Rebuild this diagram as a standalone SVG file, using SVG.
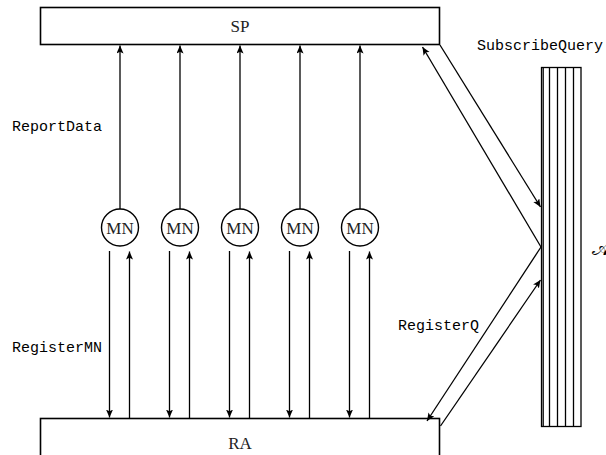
<svg xmlns="http://www.w3.org/2000/svg" width="606" height="455" viewBox="0 0 606 455">
<style>
.box{fill:#fff;stroke:#000;stroke-width:1.6}
.ln{stroke:#000;stroke-width:1.3;fill:none}
.circ{fill:#fff;stroke:#000;stroke-width:1.4}
.serif{font-family:"Liberation Serif","Times New Roman",serif;font-size:17px;fill:#222;text-anchor:middle}
.mono{font-family:"Liberation Mono","Courier New",monospace;font-size:15px;fill:#000}
</style>
<defs>
<marker id="ah" markerUnits="userSpaceOnUse" markerWidth="9" markerHeight="8" refX="8" refY="3.5" orient="auto">
<path d="M0,0 L8,3.5 L0,7 L1.8,3.5 z" fill="#000"/>
</marker>
</defs>
<g id="SP"><rect class="box" x="40.5" y="7.5" width="399" height="37"/><text class="serif" x="240" y="32">SP</text></g>
<g id="RA"><rect class="box" x="40.5" y="418.5" width="399" height="50"/><text class="serif" x="240" y="449">RA</text></g>
<g id="A">
<rect x="541.5" y="67.5" width="39.5" height="359" fill="#fff" stroke="#000" stroke-width="1.3"/>
<line class="ln" x1="543.2" y1="67.5" x2="543.2" y2="426.5"/>
<line class="ln" x1="549.5" y1="67.5" x2="549.5" y2="426.5"/>
<line class="ln" x1="557.5" y1="67.5" x2="557.5" y2="426.5"/>
<line class="ln" x1="565.5" y1="67.5" x2="565.5" y2="426.5"/>
<line class="ln" x1="573.5" y1="67.5" x2="573.5" y2="426.5"/>
<text x="592" y="255" font-family="DejaVu Sans, Noto Sans, serif" font-size="21">𝒜</text>
</g>
<g id="MN1"><circle class="circ" cx="120" cy="227.5" r="18.5"/><text class="serif" x="120" y="233.5">MN</text></g>
<g id="MN2"><circle class="circ" cx="180" cy="227.5" r="18.5"/><text class="serif" x="180" y="233.5">MN</text></g>
<g id="MN3"><circle class="circ" cx="240" cy="227.5" r="18.5"/><text class="serif" x="240" y="233.5">MN</text></g>
<g id="MN4"><circle class="circ" cx="300" cy="227.5" r="18.5"/><text class="serif" x="300" y="233.5">MN</text></g>
<g id="MN5"><circle class="circ" cx="360" cy="227.5" r="18.5"/><text class="serif" x="360" y="233.5">MN</text></g>
<g id="connectors" marker-end="url(#ah)">
<line class="ln" x1="120" y1="209" x2="120" y2="45.5"/>
<line class="ln" x1="180" y1="209" x2="180" y2="45.5"/>
<line class="ln" x1="240" y1="209" x2="240" y2="45.5"/>
<line class="ln" x1="300" y1="209" x2="300" y2="45.5"/>
<line class="ln" x1="360" y1="209" x2="360" y2="45.5"/>
<line class="ln" x1="109.5" y1="251" x2="109.5" y2="417.5"/>
<line class="ln" x1="129.5" y1="418" x2="129.5" y2="251.5"/>
<line class="ln" x1="169.5" y1="251" x2="169.5" y2="417.5"/>
<line class="ln" x1="189.5" y1="418" x2="189.5" y2="251.5"/>
<line class="ln" x1="229.5" y1="251" x2="229.5" y2="417.5"/>
<line class="ln" x1="249.5" y1="418" x2="249.5" y2="251.5"/>
<line class="ln" x1="289.5" y1="251" x2="289.5" y2="417.5"/>
<line class="ln" x1="309.5" y1="418" x2="309.5" y2="251.5"/>
<line class="ln" x1="349.5" y1="251" x2="349.5" y2="417.5"/>
<line class="ln" x1="369.5" y1="418" x2="369.5" y2="251.5"/>
<line class="ln" x1="541" y1="247" x2="422.5" y2="47"/>
<line class="ln" x1="440" y1="45" x2="540.5" y2="207"/>
<line class="ln" x1="541" y1="247" x2="427" y2="421"/>
<line class="ln" x1="440.5" y1="426" x2="540.5" y2="280"/>
</g>
<g id="labels">
<text class="mono" x="12" y="131">ReportData</text>
<text class="mono" x="12" y="352">RegisterMN</text>
<text class="mono" x="398" y="330">RegisterQ</text>
<text class="mono" x="477" y="50">SubscribeQuery</text>
</g>
</svg>
